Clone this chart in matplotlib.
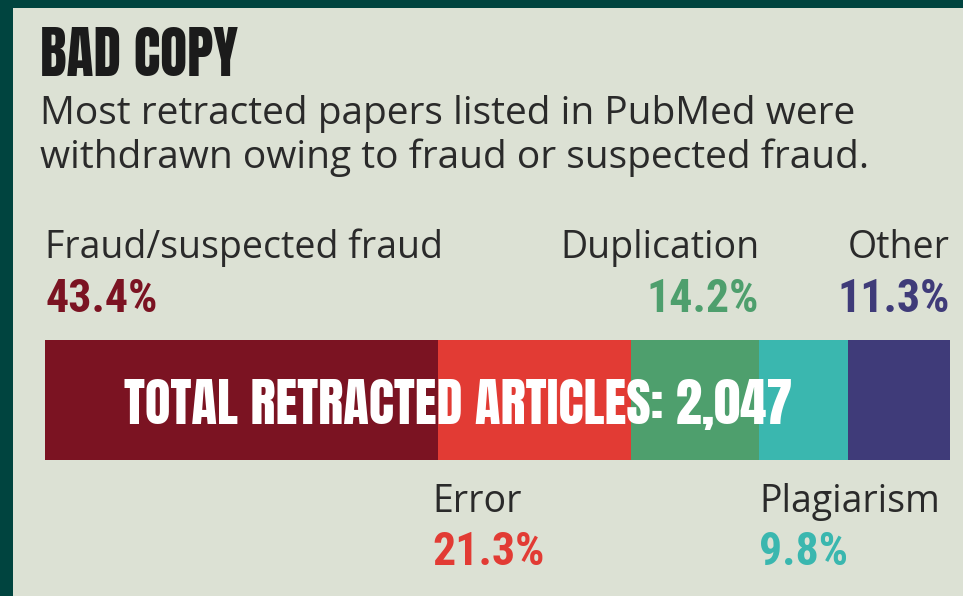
import matplotlib
matplotlib.use('Agg')
import matplotlib.pyplot as plt
from matplotlib.transforms import blended_transform_factory

# data
categories = ['Fraud/suspected fraud', 'Error', 'Duplication', 'Plagiarism', 'Other']
shares = [43.4, 21.3, 14.2, 9.8, 11.3]
colors = ['#7b1322', '#e23b34', '#4e9f6d', '#3ab7af', '#3f3b79']
total_articles = 2047

title = 'BAD COPY'
subtitle = ['Most retracted papers listed in PubMed were',
            'withdrawn owing to fraud or suspected fraud.']

W, H = 963, 596
paper = '#dce1d4'
border = '#00443f'
ink = '#2a2a2a'
heavy = ['Anton', 'Oswald', 'IBM Plex Sans Condensed', 'DejaVu Sans']
cond = ['Roboto Condensed', 'IBM Plex Sans Condensed', 'DejaVu Sans']
body = ['Open Sans', 'DejaVu Sans']

fig = plt.figure(figsize=(W / 100, H / 100), dpi=100)
fig.patch.set_facecolor(border)

# paper background (inset from the dark border on top and left)
bg = fig.add_axes([13 / W, 0, 1 - 13 / W, 1 - 8 / H])
bg.set_facecolor(paper)
bg.set_xticks([])
bg.set_yticks([])
for s in bg.spines.values():
    s.set_visible(False)

fig.text(40 / W, 1 - 76 / H, title, fontsize=40, family=heavy,
         color='#1b1b1b', va='baseline')
for i, line in enumerate(subtitle):
    fig.text(40 / W, 1 - (124 + 44 * i) / H, line, fontsize=28, family=body,
             color=ink, va='baseline')

# the stacked bar
ax = fig.add_axes([45 / W, 1 - 460 / H, 905 / W, 120 / H])
left = 0
starts = []
for name, val, col in zip(categories, shares, colors):
    ax.barh(0, val, left=left, height=1, color=col, edgecolor='none')
    starts.append(left)
    left += val
ax.set_xlim(0, 100)
ax.set_ylim(-0.5, 0.5)
ax.axis('off')

ax.text(45.6, -0.04, f'TOTAL RETRACTED ARTICLES: {total_articles:,}',
        ha='center', va='center', color='white', fontsize=38,
        family=heavy)

tr = blended_transform_factory(ax.transData, fig.transFigure)


def label(x, name, val, col, ha, y_name, y_val):
    ax.text(x, 1 - y_name / H, name, transform=tr, ha=ha, va='baseline',
            fontsize=27, family=body, color=ink)
    ax.text(x, 1 - y_val / H, f'{val}%', transform=tr, ha=ha,
            va='baseline', fontsize=33, fontweight='bold', family=cond,
            color=col)


ends = [s + v for s, v in zip(starts, shares)]
# above the bar
label(starts[0], categories[0], shares[0], colors[0], 'left', 258, 312)
label(ends[2], categories[2], shares[2], colors[2], 'right', 258, 312)
label(ends[4], categories[4], shares[4], colors[4], 'right', 258, 312)
# below the bar
label(starts[1] - 0.6, categories[1], shares[1], colors[1], 'left', 512, 565)
label(starts[3], categories[3], shares[3], colors[3], 'left', 512, 565)

fig.savefig('out.png', dpi=100, facecolor=fig.get_facecolor())
